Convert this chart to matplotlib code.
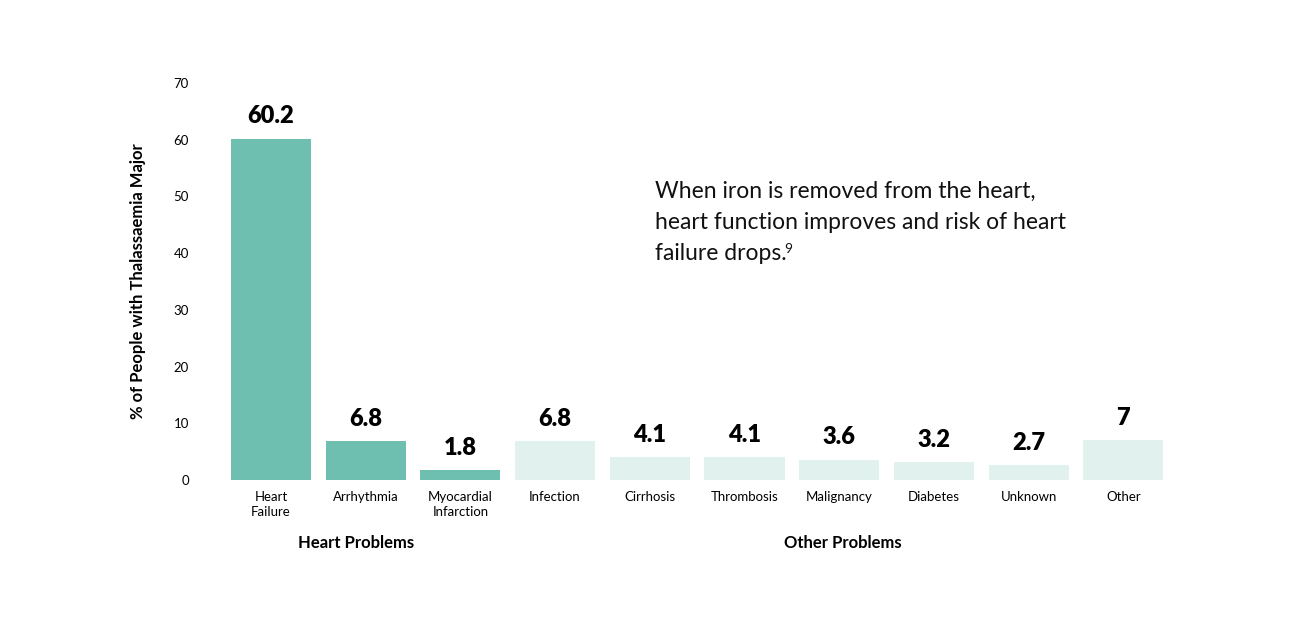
import numpy as np
import matplotlib
matplotlib.use("Agg")
import matplotlib.pyplot as plt

# data
categories = ["Heart\nFailure", "Arrhythmia", "Myocardial\nInfarction", "Infection",
              "Cirrhosis", "Thrombosis", "Malignancy", "Diabetes", "Unknown", "Other"]
values = [60.2, 6.8, 1.8, 6.8, 4.1, 4.1, 3.6, 3.2, 2.7, 7]
value_labels = ["60.2", "6.8", "1.8", "6.8", "4.1", "4.1", "3.6", "3.2", "2.7", "7"]
groups = ["heart", "heart", "heart", "other", "other", "other", "other", "other", "other", "other"]
yticks = [0, 10, 20, 30, 40, 50, 60, 70]

plt.rcParams['font.family'] = ['Lato', 'DejaVu Sans']

dark = "#6EBFB0"
light = "#E1F1ED"
colours = [dark if g == "heart" else light for g in groups]

fig = plt.figure(figsize=(13, 6.42), dpi=100)
ax = fig.add_axes([200/1300, 1 - 480/642, 1000/1300, (480 - 83)/642])

x = np.arange(len(values))
bars = ax.bar(x, values, width=0.845, color=colours)

for xi, v, lab in zip(x, values, value_labels):
    ax.annotate(lab, (xi, v), xytext=(0, 8), textcoords="offset points",
                ha="center", va="bottom", fontsize=17, fontweight="heavy", color="black")

ax.set_xlim(-0.75, 9.81)
ax.set_ylim(0, 70)
ax.set_yticks(yticks)
ax.set_yticklabels([str(t) for t in yticks], fontsize=9.5)
ax.set_xticks(x)
ax.set_xticklabels(categories, fontsize=9.5, linespacing=1.3)
ax.tick_params(length=0)
ax.tick_params(axis="y", pad=8)
ax.tick_params(axis="x", pad=8)
for s in ax.spines.values():
    s.set_visible(False)

ax.set_ylabel("% of People with Thalassaemia Major", fontsize=12, fontweight="bold", labelpad=20)

fig.text(356/1300, 1 - 543/642, "Heart Problems", ha="center", va="center",
         fontsize=12, fontweight="bold")
fig.text(843/1300, 1 - 543/642, "Other Problems", ha="center", va="center",
         fontsize=12, fontweight="bold")

note = fig.text(655/1300, 1 - 181/642,
                "When iron is removed from the heart,\nheart function improves and risk of heart",
                ha="left", va="top", fontsize=16.5, linespacing=1.6, color="#111111")
last = fig.text(655/1300, 1 - 243/642, "failure drops.",
                ha="left", va="top", fontsize=16.5, color="#111111")
ax.annotate("9", xy=(1, 1), xycoords=last, xytext=(-1.5, 0), textcoords="offset points",
            ha="left", va="top", fontsize=10, color="#111111")

fig.savefig("out.png", dpi=100, facecolor="white")
